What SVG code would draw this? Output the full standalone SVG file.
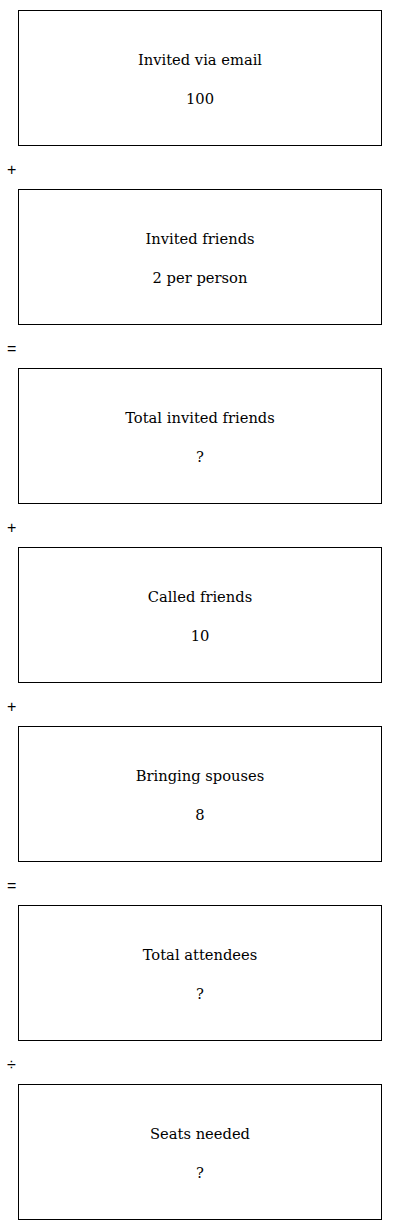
<svg xmlns="http://www.w3.org/2000/svg" width="400" height="1230" viewBox="0 0 400 1230">
<style>
.box{fill:#fff;stroke:#000;stroke-width:1}
.t{font-family:"DejaVu Serif",serif;font-size:14.7px;text-anchor:middle;fill:#000}
.op{font-family:"Liberation Sans",Arial,sans-serif;font-size:16px;fill:#000}
</style>
<rect width="400" height="1230" fill="#fff"/>
<g id="connectors">
<text class="op" x="7" y="175">+</text>
<text class="op" x="7" y="354">=</text>
<text class="op" x="7" y="533">+</text>
<text class="op" x="7" y="712">+</text>
<text class="op" x="7" y="891">=</text>
<text class="op" x="7" y="1070">÷</text>
</g>
<g id="n1"><rect class="box" x="18.5" y="10.5" width="363" height="135"/><text class="t" x="200" y="65">Invited via email</text><text class="t" x="200" y="104">100</text></g>
<g id="n2"><rect class="box" x="18.5" y="189.5" width="363" height="135"/><text class="t" x="200" y="244">Invited friends</text><text class="t" x="200" y="283">2 per person</text></g>
<g id="n3"><rect class="box" x="18.5" y="368.5" width="363" height="135"/><text class="t" x="200" y="423">Total invited friends</text><text class="t" x="200" y="462">?</text></g>
<g id="n4"><rect class="box" x="18.5" y="547.5" width="363" height="135"/><text class="t" x="200" y="602">Called friends</text><text class="t" x="200" y="641">10</text></g>
<g id="n5"><rect class="box" x="18.5" y="726.5" width="363" height="135"/><text class="t" x="200" y="781">Bringing spouses</text><text class="t" x="200" y="820">8</text></g>
<g id="n6"><rect class="box" x="18.5" y="905.5" width="363" height="135"/><text class="t" x="200" y="960">Total attendees</text><text class="t" x="200" y="999">?</text></g>
<g id="n7"><rect class="box" x="18.5" y="1084.5" width="363" height="135"/><text class="t" x="200" y="1139">Seats needed</text><text class="t" x="200" y="1178">?</text></g>
</svg>
